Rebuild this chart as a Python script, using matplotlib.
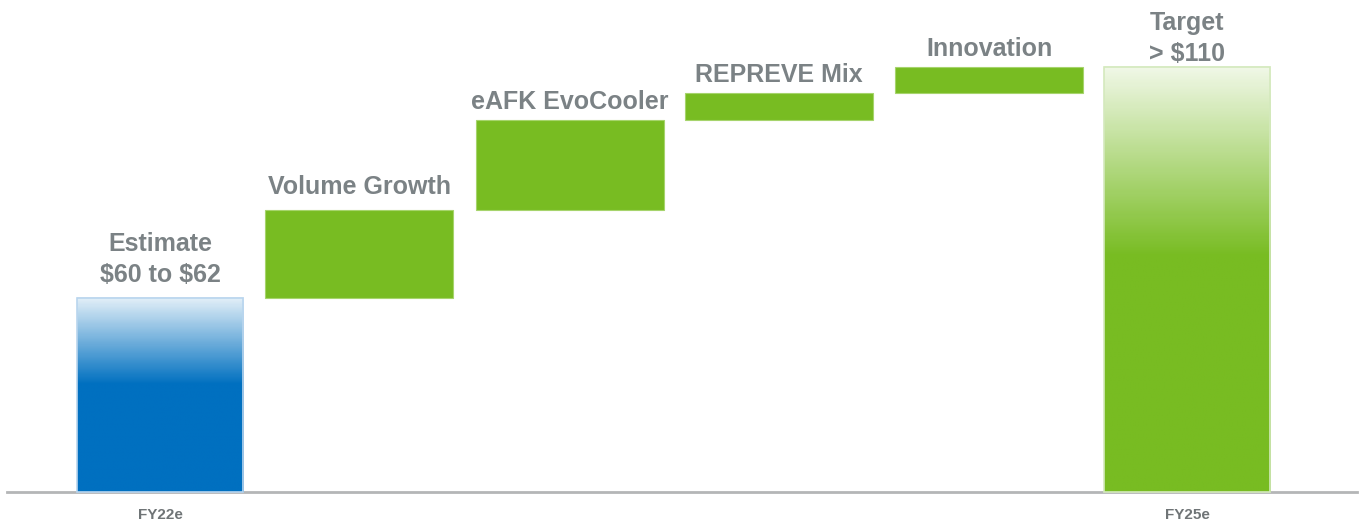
import numpy as np
import matplotlib.pyplot as plt
from matplotlib.colors import LinearSegmentedColormap

plt.rcParams['font.family'] = ['Liberation Sans', 'DejaVu Sans']
plt.rcParams['text.parse_math'] = False

# bridge from FY22e EPS estimate to FY25e target ($)
steps = ['FY22e', 'Volume Growth', 'eAFK EvoCooler', 'REPREVE Mix', 'Innovation', 'FY25e']
labels = ['Estimate\n$60 to $62', 'Volume Growth', 'eAFK EvoCooler', 'REPREVE Mix',
          'Innovation', 'Target\n> $110']
start_value = 61
increments = [27.7, 28.3, 8.5, 8.2]
tick_labels = ['FY22e', '', '', '', '', 'FY25e']

blue = '#0070c0'
green = '#78bc22'
text_grey = '#7b8285'

# waterfall geometry
bottoms = [0]
heights = [start_value]
run = start_value
for inc in increments:
    bottoms.append(run)
    heights.append(inc)
    run += inc
bottoms.append(0)
heights.append(run)

# slide layout: slot positions, bar widths, label gaps (pt)
x = np.array([0, 0.969, 1.994, 3.014, 4.037, 5])
widths = [0.81, 0.915, 0.915, 0.915, 0.915, 0.81]
label_pad = [11.5, 11.5, 7.5, 7.5, 7.5, 4.5]

fig = plt.figure(figsize=(13.61, 5.27), dpi=100)
ax = fig.add_axes([0, 0, 1, 1])
ax.set_xlim(-0.779, 5.847)
ax.set_ylim(-11.0, 154.7)
ax.axis('off')


def gradient_bar(xc, w, top, color, border):
    cmap = LinearSegmentedColormap.from_list('g', [(0, color), (0.54, color), (1, '#ffffff')])
    grad = np.linspace(0, 1, 256).reshape(-1, 1)
    grad = 0.03 + 0.92 * grad
    ax.imshow(grad, cmap=cmap, vmin=0, vmax=1, origin='lower', aspect='auto',
              extent=(xc - w / 2, xc + w / 2, 0, top), zorder=2, interpolation='bilinear')
    ax.bar(xc, top, w, color='none', edgecolor=border, linewidth=1.2, zorder=3)


for i in range(len(steps)):
    if i == 0:
        gradient_bar(x[i], widths[i], heights[i], blue, '#b9d5ee')
    elif i == len(steps) - 1:
        gradient_bar(x[i], widths[i], heights[i], green, '#d4e9bd')
    else:
        ax.bar(x[i], heights[i], widths[i], bottom=bottoms[i], color=green,
               edgecolor='#a6d46c', linewidth=0.8, zorder=2)
    top = bottoms[i] + heights[i]
    ax.annotate(labels[i], (x[i], top), xytext=(0, label_pad[i]), textcoords='offset points',
                ha='center', va='baseline', fontsize=18, fontweight='bold',
                color=text_grey, linespacing=1.35, zorder=4)
    if tick_labels[i]:
        ax.annotate(tick_labels[i], (x[i], 0), xytext=(0, -19.5), textcoords='offset points',
                    ha='center', va='baseline', fontsize=11, fontweight='bold',
                    color='#6f7476')

ax.axhline(0, xmin=0.005, xmax=0.997, color='#b4b6b7', linewidth=2, zorder=1)

fig.savefig('out.png', dpi=100, facecolor='white')
